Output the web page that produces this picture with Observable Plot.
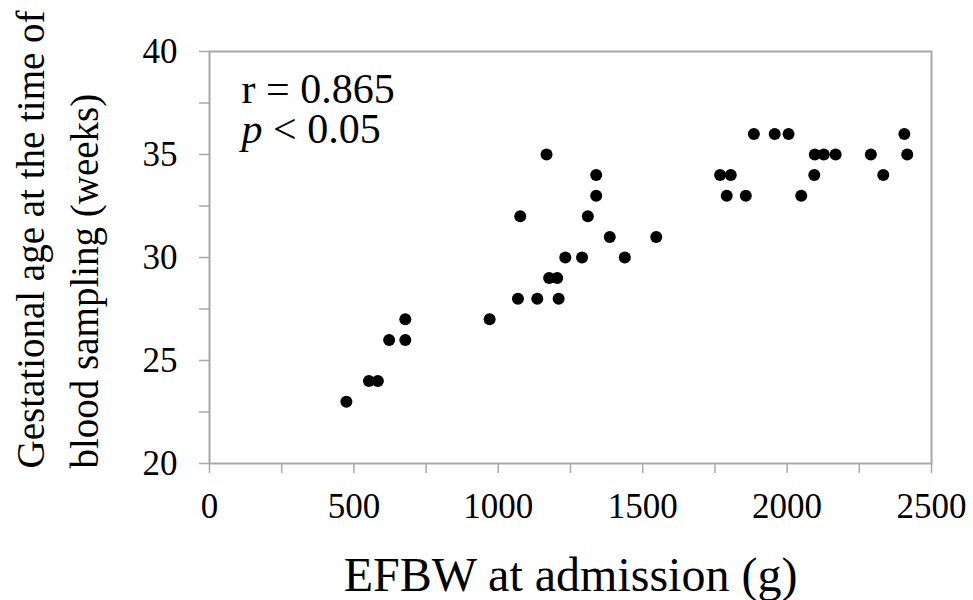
<!DOCTYPE html>
<html>
<head>
<meta charset="utf-8">
<script src="https://cdn.jsdelivr.net/npm/d3@7"></script>
<script src="https://cdn.jsdelivr.net/npm/@observablehq/plot@0.6"></script>
<style>
  html, body { margin: 0; padding: 0; background: #fff; }
</style>
</head>
<body>
<div id="chart"></div>
<script>
// EFBW at admission (g)
const efbw = [474, 552, 583, 622, 678, 678, 970, 1068, 1135, 1209, 1176, 1204, 1232, 1290, 1438, 1076, 1167, 1310, 1339, 1339, 1386, 1547, 1768, 1805, 1791, 1857, 1885, 1957, 2005, 2049, 2094, 2096, 2127, 2168, 2290, 2333, 2406, 2416];
// Gestational age at the time of blood sampling (weeks)
const gaWeeks = [23, 24, 24, 26, 26, 27, 27, 28, 28, 28, 29, 29, 30, 30, 30, 32, 35, 32, 33, 34, 31, 31, 34, 34, 33, 33, 36, 36, 36, 33, 34, 35, 35, 35, 35, 34, 36, 35];

const xTicks = [0, 250, 500, 750, 1000, 1250, 1500, 1750, 2000, 2250, 2500];
const yTicks = [20, 22.5, 25, 27.5, 30, 32.5, 35, 37.5, 40];
const xTitle = "EFBW at admission (g)";
const yTitle = "Gestational age at the time of\nblood sampling (weeks)";
const statsText = "r = 0.865\np < 0.05";

const points = efbw.map((v, i) => ({efbw: v, ga: gaWeeks[i]}));

const font = "Liberation Serif";
const axisGray = "#a8a8a8";

const chart = Plot.plot({
  width: 973,
  height: 600,
  marginLeft: 209,
  marginRight: 42,
  marginTop: 51,
  marginBottom: 137,
  style: {fontFamily: font, background: "#fff", color: "#000"},
  x: {domain: [0, 2500]},
  y: {domain: [20, 40]},
  marks: [
    Plot.frame({stroke: axisGray, strokeWidth: 2}),
    Plot.axisX({
      ticks: xTicks, tickSize: 10, tickPadding: 20,
      tickFormat: d => d % 500 === 0 ? String(d) : "",
      stroke: axisGray, strokeWidth: 1.5, fill: "#000",
      fontSize: 35, fontFamily: font, label: null
    }),
    Plot.axisY({
      ticks: yTicks, tickSize: 10, tickPadding: 22,
      tickFormat: d => d % 5 === 0 ? String(d) : "",
      stroke: axisGray, strokeWidth: 1.5, fill: "#000",
      fontSize: 35, fontFamily: font, label: null
    }),
    Plot.dot(points, {x: "efbw", y: "ga", r: 6, fill: "#000", stroke: "none"}),
    Plot.text([xTitle], {
      frameAnchor: "bottom", lineAnchor: "bottom", dy: 127,
      fontSize: 48, fontFamily: font, fill: "#000"
    }),
    Plot.text([yTitle], {
      frameAnchor: "left", rotate: -90, textAnchor: "start", lineAnchor: "top",
      lineHeight: 1.385, dx: -204, dy: 211,
      fontSize: 39, fontFamily: font, fill: "#000"
    }),
    Plot.text([statsText], {
      frameAnchor: "top-left", textAnchor: "start", lineAnchor: "top",
      lineHeight: 0.952, dx: 32, dy: 23,
      fontSize: 42, fontFamily: font, fill: "#000",
      className: "stats"
    })
  ]
});
document.getElementById("chart").appendChild(chart);

// italicise the "p" of the second annotation line
const statTspans = chart.querySelectorAll(".stats text tspan");
if (statTspans.length === 2) {
  const line = statTspans[1];
  const txt = line.textContent;
  line.textContent = "";
  const ns = "http://www.w3.org/2000/svg";
  const it = document.createElementNS(ns, "tspan");
  it.setAttribute("font-style", "italic");
  it.textContent = txt.slice(0, 1);
  const rest = document.createElementNS(ns, "tspan");
  rest.textContent = txt.slice(1);
  line.appendChild(it);
  line.appendChild(rest);
}
</script>
</body>
</html>
